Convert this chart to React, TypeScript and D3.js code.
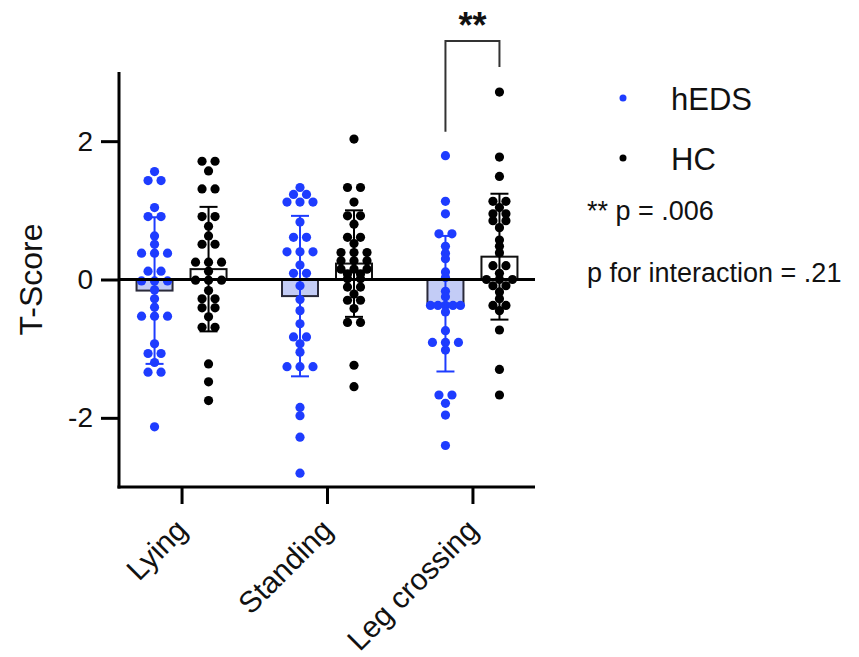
import React, { useEffect, useRef } from 'react';
import * as d3 from 'd3';

const categories = ['Lying', 'Standing', 'Leg crossing'];
const groups = ['hEDS', 'HC'];

// T-scores, one array per column
const lyingHEDS = [1.56, 1.43, 1.43, 1.04, 0.91, 0.91, 0.63, 0.51, 0.38, 0.38, 0.38, 0.12, 0.12, -0.02, -0.02, -0.02, -0.15, -0.28, -0.40, -0.53, -0.53, -0.53, -0.93, -1.07, -1.07, -1.20, -1.34, -1.34, -2.13];
const lyingHC = [1.71, 1.71, 1.57, 1.31, 1.31, 0.91, 0.91, 0.77, 0.63, 0.51, 0.51, 0.25, 0.25, 0.25, 0.12, -0.01, -0.01, -0.01, -0.16, -0.28, -0.28, -0.41, -0.41, -0.54, -0.69, -0.69, -1.22, -1.48, -1.75];
const standingHEDS = [1.33, 1.23, 1.23, 1.12, 1.12, 1.12, 0.83, 0.61, 0.61, 0.40, 0.40, 0.40, 0.21, 0.09, 0.09, -0.09, -0.29, -0.45, -0.64, -0.83, -0.83, -0.93, -1.05, -1.26, -1.26, -1.26, -1.85, -1.97, -2.28, -2.80];
const standingHC = [2.03, 1.33, 1.33, 1.12, 0.92, 0.92, 0.80, 0.61, 0.61, 0.52, 0.39, 0.39, 0.39, 0.27, 0.27, 0.27, 0.15, 0.15, 0.15, 0.08, 0.08, 0.01, 0.01, -0.11, -0.11, -0.21, -0.30, -0.30, -0.42, -0.62, -0.62, -1.24, -1.55];
const legHEDS = [1.79, 1.13, 0.95, 0.66, 0.66, 0.48, 0.38, 0.30, 0.11, 0.03, -0.17, -0.25, -0.375, -0.375, -0.375, -0.375, -0.375, -0.47, -0.74, -0.91, -0.91, -0.91, -1.02, -1.67, -1.67, -1.79, -1.96, -2.40];
const legHC = [2.71, 1.77, 1.49, 1.13, 1.13, 1.04, 0.95, 0.95, 0.85, 0.85, 0.75, 0.57, 0.48, 0.385, 0.20, 0.20, 0.09, 0, 0, 0, -0.09, -0.09, -0.18, -0.28, -0.375, -0.375, -0.45, -0.73, -1.30, -1.67];

// bar = mean, whisker = SD
const meansHEDS = [-0.16, -0.24, -0.35];
const sdHEDS = [1.06, 1.16, 0.98];
const meansHC = [0.15, 0.23, 0.33];
const sdHC = [0.9, 0.77, 0.91];

const yTicks = [-2, 0, 2];

const BLUE = '#1e3cff';
const FONT = '"Liberation Sans", Arial, Helvetica, sans-serif';

const App = () => {
  const ref = useRef<SVGSVGElement>(null);

  useEffect(() => {
    const svg = d3.select(ref.current);
    svg.selectAll('*').remove();

    const left = 119, right = 535, top = 72, bottom = 487;

    const y = d3.scaleLinear().domain([-3, 3]).range([bottom, top]);
    const x = d3.scalePoint().domain(categories).range([left, right]).padding(0.43);
    const xg = d3.scalePoint().domain(groups).range([-27, 27]);

    const cols = [
      { cat: 'Lying', grp: 'hEDS', vals: lyingHEDS, mean: meansHEDS[0], sd: sdHEDS[0] },
      { cat: 'Lying', grp: 'HC', vals: lyingHC, mean: meansHC[0], sd: sdHC[0] },
      { cat: 'Standing', grp: 'hEDS', vals: standingHEDS, mean: meansHEDS[1], sd: sdHEDS[1] },
      { cat: 'Standing', grp: 'HC', vals: standingHC, mean: meansHC[1], sd: sdHC[1] },
      { cat: 'Leg crossing', grp: 'hEDS', vals: legHEDS, mean: meansHEDS[2], sd: sdHEDS[2] },
      { cat: 'Leg crossing', grp: 'HC', vals: legHC, mean: meansHC[2], sd: sdHC[2] },
    ];

    const barW = 36;
    const g = svg.append('g');

    // bars
    cols.forEach(c => {
      const cx = x(c.cat)! + xg(c.grp)!;
      g.append('rect')
        .attr('x', cx - barW / 2)
        .attr('y', Math.min(y(c.mean), y(0)))
        .attr('width', barW)
        .attr('height', Math.abs(y(c.mean) - y(0)))
        .attr('fill', c.grp === 'hEDS' ? '#c3ccf6' : '#fff')
        .attr('stroke', c.grp === 'hEDS' ? '#2a2a3a' : '#111')
        .attr('stroke-width', 2);
    });

    // dots, laid out in rows like a column scatter
    cols.forEach(c => {
      const cx = x(c.cat)! + xg(c.grp)!;
      const color = c.grp === 'hEDS' ? BLUE : '#000';
      const sorted = [...c.vals].sort((a, b) => b - a);
      const rows: number[][] = [];
      sorted.forEach(v => {
        const last = rows[rows.length - 1];
        if (last && Math.abs(y(last[0]) - y(v)) < 3.5) last.push(v);
        else rows.push([v]);
      });
      rows.forEach(r => {
        const n = r.length;
        const step = n > 3 ? 30 / (n - 1) : 13;
        r.forEach((v, i) => {
          g.append('circle')
            .attr('cx', cx + (i - (n - 1) / 2) * step)
            .attr('cy', y(v))
            .attr('r', 4.6)
            .attr('fill', color);
        });
      });
    });

    // SD whiskers
    cols.forEach(c => {
      const cx = x(c.cat)! + xg(c.grp)!;
      const color = c.grp === 'hEDS' ? BLUE : '#000';
      const y1 = y(c.mean + c.sd), y2 = y(c.mean - c.sd);
      g.append('line').attr('x1', cx).attr('x2', cx).attr('y1', y1).attr('y2', y2)
        .attr('stroke', color).attr('stroke-width', 2);
      [y1, y2].forEach(yy => {
        g.append('line').attr('x1', cx - 9).attr('x2', cx + 9).attr('y1', yy).attr('y2', yy)
          .attr('stroke', color).attr('stroke-width', 2);
      });
    });

    // zero line
    g.append('line')
      .attr('x1', left).attr('x2', right)
      .attr('y1', y(0)).attr('y2', y(0))
      .attr('stroke', '#000').attr('stroke-width', 3);

    // y axis
    const yAxis = g.append('g')
      .attr('transform', `translate(${left},0)`)
      .call(d3.axisLeft(y).tickValues(yTicks).tickSize(18).tickSizeOuter(0).tickPadding(8).tickFormat(d => String(d)));
    yAxis.select('.domain').attr('stroke-width', 3).attr('d', `M0,${top}V${bottom + 1.5}`);
    yAxis.selectAll('.tick line').attr('stroke-width', 3);
    yAxis.selectAll('.tick text')
      .attr('font-family', FONT).attr('font-size', 28).attr('fill', '#111');

    // x axis
    const xAxis = g.append('g')
      .attr('transform', `translate(0,${bottom})`)
      .call(d3.axisBottom(x).tickSize(17).tickSizeOuter(0));
    xAxis.select('.domain').attr('stroke-width', 3).attr('d', `M${left - 1.5},0H${right}`);
    xAxis.selectAll('.tick line').attr('stroke-width', 3);
    xAxis.selectAll('.tick text')
      .attr('font-family', FONT).attr('font-size', 30).attr('fill', '#111')
      .attr('text-anchor', 'end')
      .attr('dy', 0)
      .attr('y', 0)
      .attr('transform', 'translate(7,45) rotate(-45)');

    // y title
    g.append('text')
      .attr('transform', `translate(42,${y(0)}) rotate(-90)`)
      .attr('text-anchor', 'middle')
      .attr('font-family', FONT).attr('font-size', 32).attr('fill', '#111')
      .text('T-Score');

    // significance bracket on Leg crossing
    const bx1 = x('Leg crossing')! + xg('hEDS')!;
    const bx2 = x('Leg crossing')! + xg('HC')!;
    const bTop = y(3) - 31;
    g.append('path')
      .attr('d', `M${bx1},${y(d3.max(legHEDS)!) - 24}V${bTop}H${bx2}V${y(d3.max(legHC)!) - 25}`)
      .attr('fill', 'none').attr('stroke', '#333').attr('stroke-width', 2);
    g.append('text')
      .attr('x', (bx1 + bx2) / 2).attr('y', 38)
      .attr('text-anchor', 'middle')
      .attr('font-family', FONT).attr('font-size', 36).attr('font-weight', 'bold').attr('fill', '#111')
      .text('**');

    // legend
    const legend = svg.append('g').attr('font-family', FONT).attr('fill', '#111');
    groups.forEach((grp, i) => {
      const ly = 98 + i * 60;
      legend.append('circle').attr('cx', 623).attr('cy', ly).attr('r', 3.5)
        .attr('fill', grp === 'hEDS' ? BLUE : '#000');
      legend.append('text').attr('x', 671).attr('y', ly + 12)
        .attr('font-size', 31).text(grp);
    });
    legend.append('text').attr('x', 587).attr('y', 220).attr('font-size', 27).text('** p = .006');
    legend.append('text').attr('x', 587).attr('y', 282).attr('font-size', 27).text('p for interaction = .21');
  }, []);

  return (
    <svg ref={ref} width={859} height={657}
      style={{ position: 'absolute', left: 0, top: 0, background: '#fff' }} />
  );
};

export default App;
